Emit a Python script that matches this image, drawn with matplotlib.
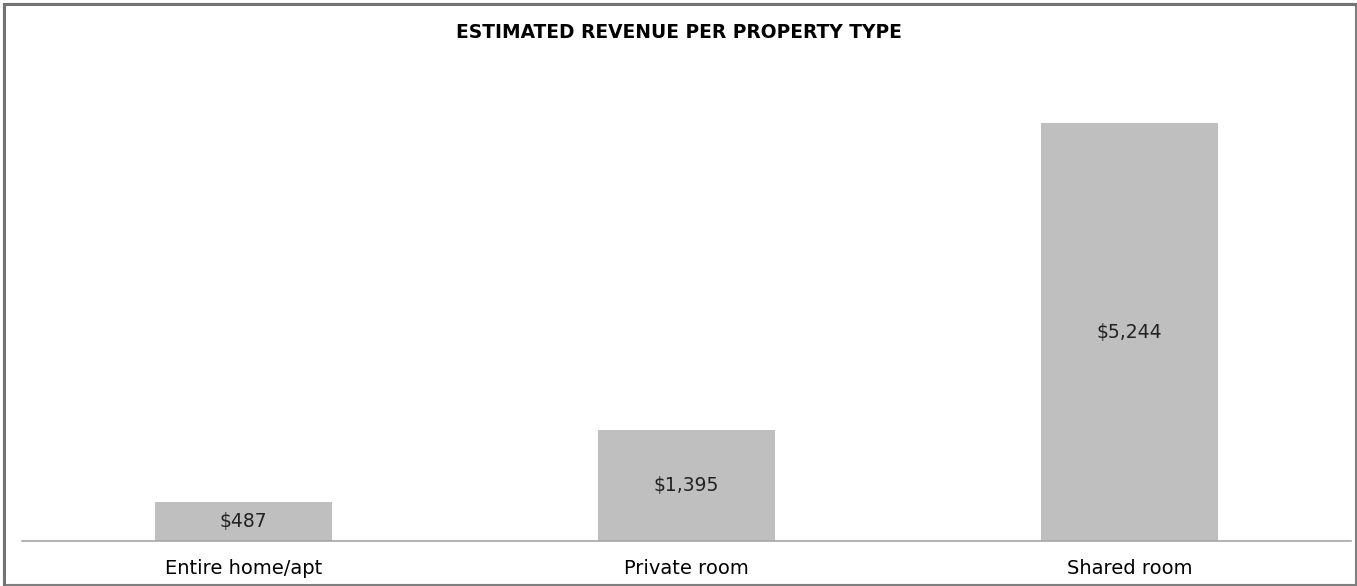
import matplotlib.pyplot as plt
from matplotlib.patches import Rectangle

# revenue per property type
categories = ["Entire home/apt", "Private room", "Shared room"]
revenue = [487, 1395, 5244]

plt.rcParams['font.family'] = ['DejaVu Sans']

fig = plt.figure(figsize=(13.57, 5.86), dpi=100)
ax = fig.add_axes([22 / 1357, 45 / 586, 1329 / 1357, 478 / 586])

x = range(len(categories))
bars = ax.bar(x, revenue, width=0.4, color='#bfbfbf', zorder=2)
for b, v in zip(bars, revenue):
    ax.text(b.get_x() + b.get_width() / 2, v / 2, f"${v:,}",
            ha='center', va='center', fontsize=13.5, color='#222222')

ax.set_xlim(-0.5, len(categories) - 0.5)
ax.set_ylim(0, 6000)
ax.set_xticks(list(x))
ax.set_xticklabels(categories, fontsize=14)
ax.tick_params(axis='x', length=0, pad=13)
ax.set_yticks([])
for s in ['top', 'left', 'right']:
    ax.spines[s].set_visible(False)
ax.spines['bottom'].set_color('#a6a6a6')
ax.spines['bottom'].set_linewidth(1.2)

fig.text(0.5, 1 - 33 / 586, "ESTIMATED REVENUE PER PROPERTY TYPE",
         ha='center', va='center', fontsize=13.4, fontweight='bold')

# outer frame, heavier on the top and left edges
fig.patches.append(Rectangle((4 / 1357, 1.5 / 586), 1351.5 / 1357, 580.5 / 586,
                             transform=fig.transFigure, fill=False,
                             edgecolor='#7f7f7f', linewidth=1.5))
fig.add_artist(plt.Line2D([4 / 1357, 4 / 1357, 1355 / 1357],
                          [1.5 / 586, 1 - 4 / 586, 1 - 4 / 586],
                          transform=fig.transFigure, color='#737373',
                          linewidth=2.2))

fig.savefig("out.png", dpi=100)
